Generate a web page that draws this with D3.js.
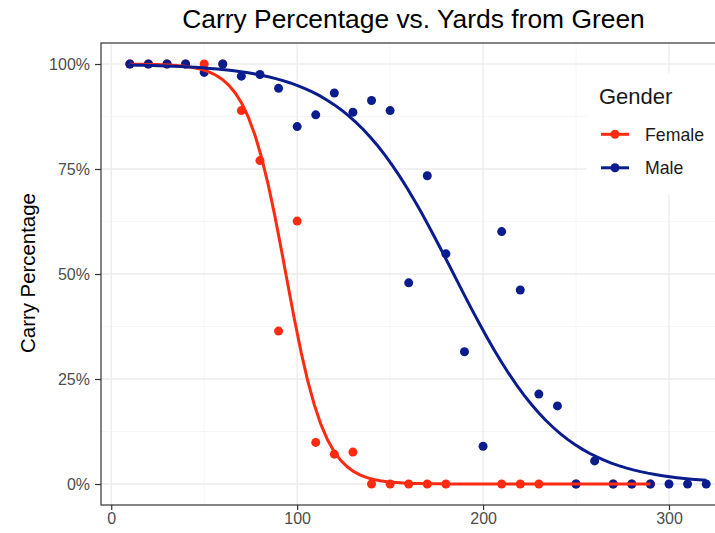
<!DOCTYPE html>
<html>
<head>
<meta charset="utf-8">
<script src="https://cdn.jsdelivr.net/npm/d3@7"></script>
<style>
  body { margin: 0; background: #fff; }
  svg text { font-family: "Liberation Sans", Arial, sans-serif; }
</style>
</head>
<body>
<script>
// yards from green and carry share
const femaleYards = [10, 20, 30, 40, 50, 60, 70, 80, 90, 100, 110, 120, 130, 140, 150, 160, 170, 180, 210, 220, 230, 250, 270, 280, 290];
const femaleCarry = [1, 1, 1, 1, 1, 1, 0.889, 0.77, 0.364, 0.626, 0.099, 0.071, 0.076, 0, 0, 0, 0, 0, 0, 0, 0, 0, 0, 0, 0];

const maleYards = [10, 20, 30, 40, 50, 60, 70, 80, 90, 100, 110, 120, 130, 140, 150, 160, 170, 180, 190, 200, 210, 220, 230, 240, 250, 260, 270, 280, 290, 300, 310, 320];
const maleCarry = [1, 1, 1, 1, 0.98, 1, 0.971, 0.975, 0.942, 0.851, 0.879, 0.931, 0.885, 0.913, 0.889, 0.479, 0.734, 0.548, 0.315, 0.090, 0.601, 0.462, 0.214, 0.186, 0, 0.055, 0, 0, 0, 0, 0, 0];

const genders = ['Female', 'Male'];
const colors = { Female: '#FF2A12', Male: '#0B1D8E' };

const xTicks = [0, 100, 200, 300];
const yTicks = [0, 0.25, 0.5, 0.75, 1];

const W = 715, H = 533;
const svg = d3.select('body').append('svg')
    .attr('width', W)
    .attr('height', H);

const pLeft = 101, pTop = 43, pRight = 735, pBottom = 505;

const x = d3.scaleLinear().domain([-5.5, 335.5]).range([pLeft, pRight]);
const y = d3.scaleLinear().domain([-0.05, 1.05]).range([pBottom, pTop]);

// logistic fit, IRLS (like glm binomial on proportions)
function fitLogit(xs, ys) {
    let b0 = 0, b1 = 0;
    const mx = d3.mean(xs), sx = d3.deviation(xs);
    const t = xs.map(v => (v - mx) / sx);
    for (let it = 0; it < 100; it++) {
        let s00 = 0, s01 = 0, s11 = 0, r0 = 0, r1 = 0;
        for (let i = 0; i < t.length; i++) {
            const eta = b0 + b1 * t[i];
            const mu = 1 / (1 + Math.exp(-eta));
            const w = Math.max(mu * (1 - mu), 1e-10);
            const z = eta + (ys[i] - mu) / w;
            s00 += w; s01 += w * t[i]; s11 += w * t[i] * t[i];
            r0 += w * z; r1 += w * z * t[i];
        }
        const det = s00 * s11 - s01 * s01;
        b0 = (s11 * r0 - s01 * r1) / det;
        b1 = (s00 * r1 - s01 * r0) / det;
    }
    return v => 1 / (1 + Math.exp(-(b0 + b1 * (v - mx) / sx)));
}

// grid
const g = svg.append('g');
const minorX = [50, 150, 250];
const minorY = [0.125, 0.375, 0.625, 0.875];
g.selectAll('.minx').data(minorX).enter().append('line')
    .attr('x1', d => x(d)).attr('x2', d => x(d))
    .attr('y1', pTop).attr('y2', pBottom)
    .attr('stroke', '#F2F2F2').attr('stroke-width', 0.7);
g.selectAll('.miny').data(minorY).enter().append('line')
    .attr('x1', pLeft).attr('x2', pRight)
    .attr('y1', d => y(d)).attr('y2', d => y(d))
    .attr('stroke', '#F2F2F2').attr('stroke-width', 0.7);
g.selectAll('.majx').data(xTicks).enter().append('line')
    .attr('x1', d => x(d)).attr('x2', d => x(d))
    .attr('y1', pTop).attr('y2', pBottom)
    .attr('stroke', '#EBEBEB').attr('stroke-width', 1.3);
g.selectAll('.majy').data(yTicks).enter().append('line')
    .attr('x1', pLeft).attr('x2', pRight)
    .attr('y1', d => y(d)).attr('y2', d => y(d))
    .attr('stroke', '#EBEBEB').attr('stroke-width', 1.3);

// points
const series = {
    Female: femaleYards.map((d, i) => [d, femaleCarry[i]]),
    Male: maleYards.map((d, i) => [d, maleCarry[i]])
};
genders.forEach(k => {
    svg.append('g').selectAll('circle').data(series[k]).enter().append('circle')
        .attr('cx', d => x(d[0]))
        .attr('cy', d => y(d[1]))
        .attr('r', 4.5)
        .attr('fill', colors[k]);
});

// fitted curves
let line = d3.line().x(d => x(d[0])).y(d => y(d[1]));
genders.forEach(k => {
    const xs = series[k].map(d => d[0]), ys = series[k].map(d => d[1]);
    const f = fitLogit(xs, ys);
    const lo = d3.min(xs), hi = d3.max(xs);
    const pts = d3.range(80).map(i => {
        const v = lo + (hi - lo) * i / 79;
        return [v, f(v)];
    });
    svg.append('path').datum(pts)
        .attr('d', line)
        .attr('fill', 'none')
        .attr('stroke', colors[k])
        .attr('stroke-width', 3);
});

// panel border
svg.append('rect')
    .attr('x', pLeft).attr('y', pTop)
    .attr('width', pRight - pLeft).attr('height', pBottom - pTop)
    .attr('fill', 'none').attr('stroke', '#333333').attr('stroke-width', 1.2);

// axes
const xAxis = svg.append('g')
    .attr('transform', `translate(0,${pBottom})`)
    .call(d3.axisBottom(x).tickValues(xTicks).tickSize(5).tickPadding(3));
const yAxis = svg.append('g')
    .attr('transform', `translate(${pLeft},0)`)
    .call(d3.axisLeft(y).tickValues(yTicks).tickFormat(d3.format('.0%')).tickSize(6).tickPadding(5));
[xAxis, yAxis].forEach(a => {
    a.select('.domain').remove();
    a.selectAll('line').attr('stroke', '#333333').attr('stroke-width', 1.2);
    a.selectAll('text').attr('fill', '#4D4D4D').style('font-size', '16px')
        .style('font-family', '"Liberation Sans", Arial, sans-serif');
});

// legend
const lg = svg.append('g');
lg.append('rect').attr('x', 587).attr('y', 73).attr('width', 140).attr('height', 122).attr('fill', '#fff');
lg.append('text').attr('x', 599).attr('y', 103.5).text('Gender')
    .style('font-size', '22px').attr('fill', '#1A1A1A');
genders.forEach((k, i) => {
    const ly = 134.3 + i * 33.5;
    lg.append('line').attr('x1', 601).attr('x2', 629).attr('y1', ly).attr('y2', ly)
        .attr('stroke', colors[k]).attr('stroke-width', 3);
    lg.append('circle').attr('cx', 615).attr('cy', ly).attr('r', 4.5).attr('fill', colors[k]);
    lg.append('text').attr('x', 645).attr('y', ly + 6.3).text(k)
        .style('font-size', '17.7px').attr('fill', '#1A1A1A');
});

// titles
svg.append('text').attr('x', 413.5).attr('y', 27.5).attr('text-anchor', 'middle')
    .text('Carry Percentage vs. Yards from Green')
    .style('font-size', '26.4px').attr('fill', '#000');
svg.append('text')
    .attr('transform', 'translate(35,273) rotate(-90)')
    .attr('text-anchor', 'middle')
    .text('Carry Percentage')
    .style('font-size', '20.4px').attr('fill', '#000');
</script>
</body>
</html>
